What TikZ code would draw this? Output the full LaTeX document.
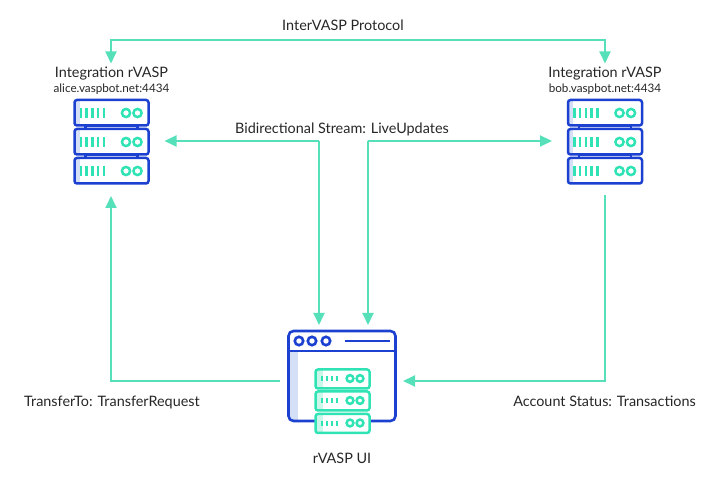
\documentclass[tikz,border=0pt]{standalone}
\usepackage{fontspec}
\setmainfont{Lato}
\usetikzlibrary{arrows.meta}
\definecolor{teal1}{HTML}{55E0BA}
\definecolor{teal2}{HTML}{2FE3B4}
\definecolor{blue1}{HTML}{1C40CF}
\definecolor{shade1}{HTML}{D5DFF5}
\tikzset{
  x=1pt,y=-1pt,
  conn/.style={draw=teal1,line width=1.9pt,-{Triangle[length=12pt,width=11pt,fill=teal1]}},
  conn2/.style={draw=teal1,line width=1.9pt,{Triangle[length=12pt,width=11pt,fill=teal1]}-{Triangle[length=12pt,width=11pt,fill=teal1]}},
  lab/.style={font=\fontsize{14.4}{16}\selectfont,text=black!85,inner sep=0pt,anchor=base},
  sublab/.style={font=\fontsize{11.7}{13}\selectfont,text=black!85,inner sep=0pt,anchor=base},
  srvbox/.style={draw=blue1,line width=2.5pt,rounded corners=2.5pt},
  uibox/.style={draw=blue1,line width=2.6pt,rounded corners=5pt},
  tealbox/.style={draw=teal2,line width=2.5pt,rounded corners=2.5pt,fill=white},
  tick/.style={draw=teal2,line width=2.5pt},
  ring/.style={draw=teal2,line width=2.5pt},
  server/.pic={
    \foreach \t in {0,29,58}{
      \fill[shade1] (1,\t+1) rectangle (5,\t+25);
      \draw[srvbox] (0,\t) rectangle (74,\t+25.5);
      \foreach \k in {0,1,2,3,4}{\draw[tick] (6.5+\k*5.7,\t+8) -- (6.5+\k*5.7,\t+18);}
      \draw[ring] (51.5,\t+13) circle (4.1);
      \draw[ring] (63,\t+13) circle (4.1);
    }
    \foreach \t in {25.5,54.5}{\draw[draw=blue1,line width=2.2pt] (11,\t) rectangle (63,\t+3.5);}
  },
  tealsrv/.pic={
    \fill[white] (0,0) rectangle (54,19);
    \fill[teal1!30] (0,0) rectangle (7,19);
    \draw[tealbox,fill=none] (0,0) rectangle (54,19);
    \foreach \k in {0,1,2,3}{\draw[draw=teal2,line width=2pt] (6.5+\k*5,7) -- (6.5+\k*5,12);}
    \draw[ring] (34.5,9) circle (3.4);
    \draw[ring] (44.5,9) circle (3.4);
  }
}
\begin{document}
\begin{tikzpicture}
\useasboundingbox (0,0) rectangle (713,486);
% anchors
\coordinate (topL) at (111,40);
\coordinate (topR) at (605,40);
\coordinate (aliceTop) at (111,63.5);
\coordinate (bobTop) at (605,63.5);
\coordinate (aliceRight) at (164.5,141);
\coordinate (bobLeft) at (552,141);
\coordinate (aliceBottom) at (111,196);
\coordinate (bobBottom) at (605,195);
\coordinate (uiTopL) at (319,325);
\coordinate (uiTopR) at (368,325);
\coordinate (uiLeft) at (280,381);
\coordinate (uiRight) at (403,381);
% labels
\node[lab] (proto) at (343,31) {InterVASP Protocol};
\node[lab] (alice) at (111.5,77.5) {Integration rVASP};
\node[sublab] (aliceh) at (111.5,92.5) {alice.vaspbot.net:4434};
\node[lab] (bob) at (605,77.5) {Integration rVASP};
\node[sublab] (bobh) at (605,92.5) {bob.vaspbot.net:4434};
\node[lab] (live) at (342,133.5) {Bidirectional Stream: LiveUpdates};
\node[lab] (xfer) at (112,406.5) {TransferTo: TransferRequest};
\node[lab] (acct) at (604.5,406.5) {Account Status: Transactions};
\node[lab] (ui) at (342,463.5) {rVASP UI};
% connectors
\draw[conn2] (aliceTop) -- (topL) -- (topR) -- (bobTop);
\draw[conn] (uiTopL |- aliceRight) -- (aliceRight);
\draw[conn] (uiTopL |- aliceRight) -- (uiTopL);
\draw[conn] (uiTopR |- bobLeft) -- (bobLeft);
\draw[conn] (uiTopR |- bobLeft) -- (uiTopR);
\draw[conn] (uiLeft) -- (aliceBottom |- uiLeft) -- (aliceBottom);
\draw[conn] (bobBottom) -- (bobBottom |- uiRight) -- (uiRight);
% server icons
\pic at (74.5,100) {server};
\pic at (568,100) {server};
% UI icon
\fill[shade1] (290,352) rectangle (298,420);
\draw[uibox] (288.5,331) rectangle (395.5,421);
\draw[draw=blue1,line width=2.6pt] (288.5,351) -- (395.5,351);
\foreach \c in {299,312,326}{\draw[draw=blue1,line width=2.6pt] (\c,341) circle (4.2);}
\draw[draw=blue1,line width=2.6pt] (345,341) -- (390,341);
\pic at (315.5,369.5) {tealsrv};
\pic at (315.5,391.5) {tealsrv};
\pic at (315.5,414) {tealsrv};
\end{tikzpicture}
\end{document}
